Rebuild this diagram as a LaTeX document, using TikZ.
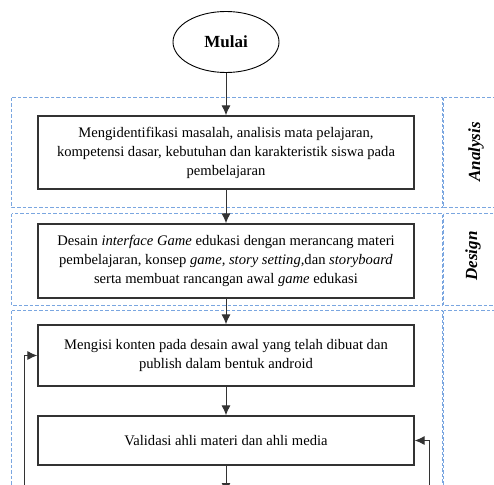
\documentclass[tikz,border=0pt]{standalone}
\usepackage{fontspec}
\setmainfont{Liberation Serif}
\usetikzlibrary{arrows.meta,shapes.geometric}
\definecolor{dashblue}{HTML}{7AA6E0}
\definecolor{boxgray}{HTML}{333333}
\begin{document}
\begin{tikzpicture}[x=1pt,y=-1pt,
  section/.style={draw=dashblue,line width=1pt,dash pattern=on 3.5pt off 2pt},
  stepbox/.style={draw=boxgray,line width=1.3pt,rectangle,minimum width=376pt,inner sep=0pt,align=center,
    font=\fontsize{14.6}{19}\selectfont},
  startnode/.style={draw=black,line width=0.9pt,ellipse,minimum width=106pt,minimum height=61pt,inner sep=0pt,
    font=\fontsize{17}{20}\selectfont\bfseries},
  phase/.style={rotate=90,font=\fontsize{17}{20}\selectfont\bfseries\itshape},
  flow/.style={draw=boxgray,line width=1pt,-{Latex[length=10pt,width=9pt,fill=boxgray]}}]
\useasboundingbox (0,0) rectangle (494,484);
% sections
\draw[section] (11.5,97.5) rectangle (442.5,207.5);
\draw[section] (443.5,97.5) rectangle (500,207.5);
\draw[section] (11.5,213.5) rectangle (442.5,305.5);
\draw[section] (443.5,213.5) rectangle (500,305.5);
\draw[section] (11.5,310.5) rectangle (442.5,500);
\draw[section] (443.5,310.5) rectangle (500,500);
\node[phase] (lanalysis) at (476,152) {Analysis};
\node[phase] (ldesign) at (473,256) {Design};
% nodes
\node[startnode] (mulai) at (226,42) {Mulai};
\node[stepbox,minimum height=73pt] (b1) at (226,152.5) {Mengidentifikasi masalah, analisis mata pelajaran,\\kompetensi dasar, kebutuhan dan karakteristik siswa pada\\pembelajaran};
\node[stepbox,minimum height=74pt] (b2) at (226,261) {Desain \textit{interface Game} edukasi dengan merancang materi\\pembelajaran, konsep \textit{game, story setting,}dan \textit{storyboard}\\serta membuat rancangan awal \textit{game} edukasi};
\node[stepbox,minimum height=61pt] (b3) at (226,355.5) {Mengisi konten pada desain awal yang telah dibuat dan\\publish dalam bentuk android};
\node[stepbox,minimum height=49pt] (b4) at (226,440.5) {Validasi ahli materi dan ahli media};
\coordinate (bend) at (226,493);
\coordinate (lfoot) at (24,500);
\coordinate (rfoot) at (429,500);
% connectors
\draw[flow] (mulai) -- (b1);
\draw[flow] (b1) -- (b2);
\draw[flow] (b2) -- (b3);
\draw[flow] (b3) -- (b4);
\draw[flow] (b4) -- (bend);
\draw[flow] (lfoot) |- (b3.west);
\draw[flow] (rfoot) |- (b4.east);
\end{tikzpicture}
\end{document}
